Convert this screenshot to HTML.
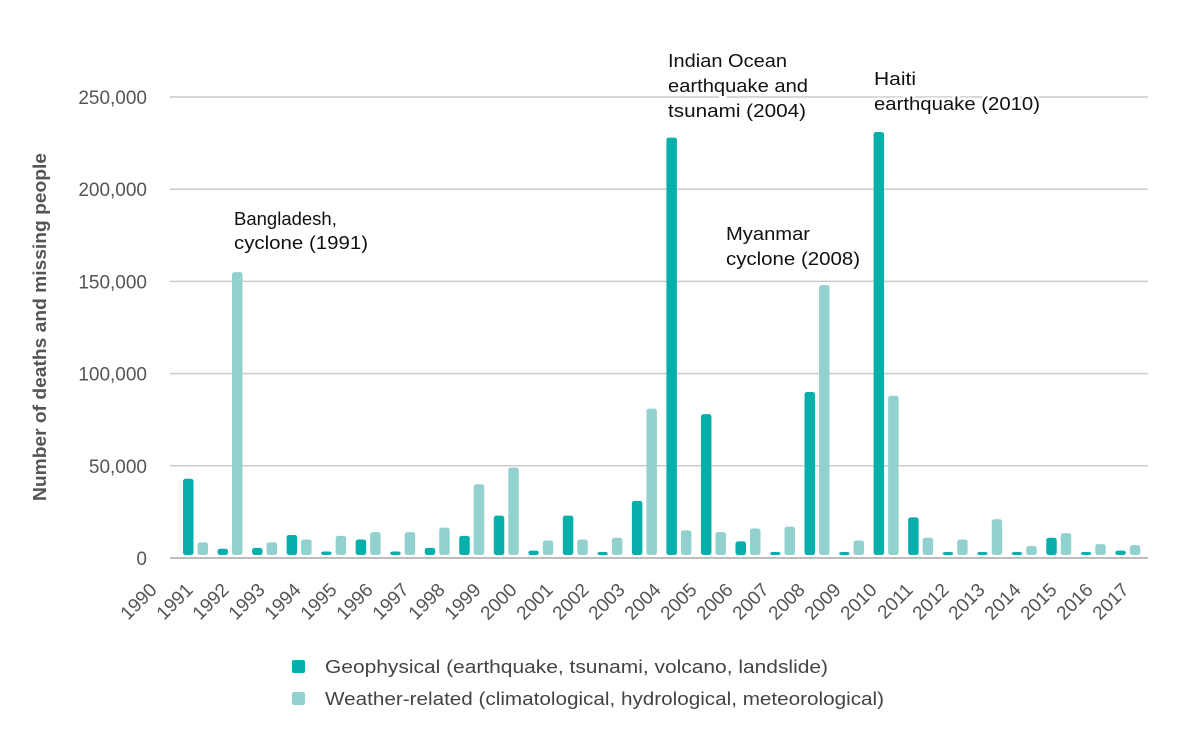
<!DOCTYPE html>
<html><head><meta charset="utf-8"><style>
body{margin:0;background:#fff;}
svg text{font-family:"Liberation Sans",sans-serif;}
.ann text{paint-order:stroke;stroke:#fff;stroke-width:5px;}
</style></head><body>
<svg id="chart" width="1186" height="744" xmlns="http://www.w3.org/2000/svg">
<g id="grid"></g><g id="bars"></g><g id="xlabels"></g><g id="ylabels"></g>
<text transform="translate(46,327) rotate(-90)" text-anchor="middle" font-size="18" font-weight="bold" fill="#555" textLength="348" lengthAdjust="spacingAndGlyphs">Number of deaths and missing people</text>
<g class="ann" font-size="18.5" fill="#111">
<text x="234" y="225">Bangladesh,</text><text x="234" y="249" textLength="134" lengthAdjust="spacingAndGlyphs">cyclone (1991)</text>
<text x="668" y="67" textLength="119" lengthAdjust="spacingAndGlyphs">Indian Ocean</text><text x="668" y="92" textLength="140" lengthAdjust="spacingAndGlyphs">earthquake and</text><text x="668" y="117" textLength="138" lengthAdjust="spacingAndGlyphs">tsunami (2004)</text>
<text x="874" y="85" textLength="42" lengthAdjust="spacingAndGlyphs">Haiti</text><text x="874" y="110" textLength="166" lengthAdjust="spacingAndGlyphs">earthquake (2010)</text>
<text x="726" y="240" textLength="84" lengthAdjust="spacingAndGlyphs">Myanmar</text><text x="726" y="265" textLength="134" lengthAdjust="spacingAndGlyphs">cyclone (2008)</text>
</g>
<g font-size="18.5" fill="#444">
<rect x="292" y="660" width="13" height="13" rx="2" fill="#06AFAA"/>
<text x="325" y="673" textLength="503" lengthAdjust="spacingAndGlyphs">Geophysical (earthquake, tsunami, volcano, landslide)</text>
<rect x="292" y="692" width="13" height="13" rx="2" fill="#93D1CF"/>
<text x="325" y="705" textLength="559" lengthAdjust="spacingAndGlyphs">Weather-related (climatological, hydrological, meteorological)</text>
</g>
</svg>
<script>
const years=[1990,1991,1992,1993,1994,1995,1996,1997,1998,1999,2000,2001,2002,2003,2004,2005,2006,2007,2008,2009,2010,2011,2012,2013,2014,2015,2016,2017];
const geophysical=[43000,5000,5500,12500,3500,10000,3500,5500,12000,23000,4000,23000,3000,31000,228000,78000,9000,1500,90000,1500,231000,22000,1500,1000,1500,11000,1500,4000];
const weather=[8500,155000,8500,10000,12000,14000,14000,16500,40000,49000,9500,10000,11000,81000,15000,14000,16000,17000,148000,9500,88000,11000,10000,21000,6500,13500,7500,7000];
const yTicks=[0,50000,100000,150000,200000,250000];
const NS="http://www.w3.org/2000/svg";
const y=v=>558-v*(558-97)/250000;
const xBar=i=>183+i*34.53;
function mk(t,a,p){const e=document.createElementNS(NS,t);for(const k in a)e.setAttribute(k,a[k]);p.appendChild(e);return e;}
const grid=document.getElementById('grid'),yl=document.getElementById('ylabels');
yTicks.forEach(t=>{
 const l=mk('line',{x1:170,x2:1148,y1:y(t),y2:y(t),stroke:t===0?'#bdbdbd':'#cccccc','stroke-width':t===0?2:1.5},grid);
 
 
 const tx=mk('text',{x:147,y:y(t)+7,'text-anchor':'end','font-size':19,fill:'#555'},yl);
 tx.textContent=t.toLocaleString('en-US');
 
 
});
const bars=document.getElementById('bars'),xl=document.getElementById('xlabels');
function bar(x,v,c,name){
 let top=y(v),bot=555;if(bot-top<3)top=bot-3;
 const r=mk('rect',{x:x,y:top,width:10.5,height:bot-top,rx:2.5,fill:c},bars);
 
 
}
years.forEach((yr,i)=>{
 bar(xBar(i),geophysical[i],'#06AFAA','bar-geophysical-'+yr);
 bar(xBar(i)+14.5,weather[i],'#93D1CF','bar-weather-'+yr);
 const lx=158+i*36,ly=585;
 const t=mk('text',{x:0,y:0,'text-anchor':'end','font-size':19,fill:'#555',transform:`translate(${lx},${ly+6}) rotate(-45)`},xl);
 t.textContent=yr;
 
 
});
</script>
</body></html>
